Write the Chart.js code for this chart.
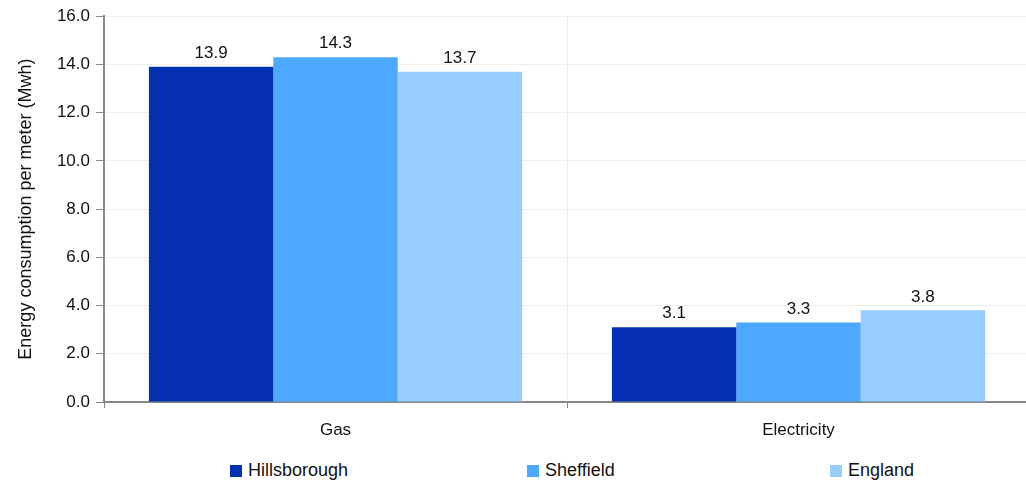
<!DOCTYPE html>
<html>
<head>
<meta charset="utf-8">
<script src="https://cdn.jsdelivr.net/npm/chart.js@4/dist/chart.umd.min.js"></script>
<style>
  body { margin: 0; background: #fff; font-family: "Liberation Sans", Arial, sans-serif; overflow: hidden; }
  #wrap { position: relative; width: 1026px; height: 450px; overflow: hidden; }
  #legend { position: absolute; top: 460px; left: 230px; display: flex; }
  .item { display: flex; align-items: center; font-size: 18px; color: #111; }
  .box { width: 12px; height: 12px; margin-right: 6px; }
</style>
</head>
<body>
<div id="wrap"><canvas id="chart" width="1030" height="450"></canvas></div>
<div id="legend"></div>
<script>
const categories = ["Gas", "Electricity"];
const seriesNames = ["Hillsborough", "Sheffield", "England"];
const hillsborough = [13.9, 3.1];
const sheffield = [14.3, 3.3];
const england = [13.7, 3.8];
const colors = ["#0230B0", "#4DA8FF", "#99CCFF"];

const fontFamily = "'Liberation Sans', Arial, sans-serif";

/*VALUE LABELS ABOVE BARS*/
const valueLabels = {
    id: "valueLabels",
    afterDatasetsDraw(chart) {
        const ctx = chart.ctx;
        ctx.save();
        ctx.font = "17px " + fontFamily;
        ctx.fillStyle = "#111";
        ctx.textAlign = "center";
        ctx.textBaseline = "bottom";
        chart.data.datasets.forEach((ds, i) => {
            chart.getDatasetMeta(i).data.forEach((bar, j) => {
                ctx.fillText(ds.data[j].toFixed(1), bar.x, bar.y - 5);
            });
        });
        ctx.restore();
    }
};

const seriesData = [hillsborough, sheffield, england];

new Chart(document.getElementById("chart"), {
    type: "bar",
    data: {
        labels: categories,
        datasets: seriesNames.map((name, i) => ({
            label: name,
            data: seriesData[i],
            backgroundColor: colors[i],
            categoryPercentage: 0.806,
            barPercentage: 1
        }))
    },
    options: {
        responsive: false,
        animation: false,
        devicePixelRatio: 1,
        layout: { padding: { top: 16, right: 0, left: 0, bottom: 0 } },
        plugins: {
            legend: { display: false },
            tooltip: { enabled: false }
        },
        scales: {
            x: {
                grid: { color: "#eeeeee", tickColor: "#888", tickLength: 6, offset: true },
                border: { color: "#888", width: 2 },
                ticks: { color: "#111", padding: 12, font: { size: 17, family: fontFamily } },
                afterFit: s => { s.height = 48; }
            },
            y: {
                min: 0,
                max: 16,
                grid: { color: "#eeeeee", tickColor: "#888", tickLength: 8 },
                border: { color: "#888", width: 2 },
                ticks: {
                    stepSize: 2,
                    color: "#111",
                    padding: 6,
                    font: { size: 17, family: fontFamily },
                    callback: v => v.toFixed(1)
                },
                title: {
                    display: true,
                    text: "Energy consumption per meter (Mwh)",
                    color: "#111",
                    padding: { top: 15, bottom: 0 },
                    font: { size: 18, family: fontFamily }
                },
                afterFit: s => { s.width = 104; }
            }
        }
    },
    plugins: [valueLabels]
});

/*LEGEND*/
const legend = document.getElementById("legend");
seriesNames.forEach((name, i) => {
    const item = document.createElement("div");
    item.className = "item";
    item.style.width = (i === 1 ? 303 : 297) + "px";
    item.innerHTML = '<span class="box" style="background:' + colors[i] + '"></span>' + name;
    legend.appendChild(item);
});
</script>
</body>
</html>
